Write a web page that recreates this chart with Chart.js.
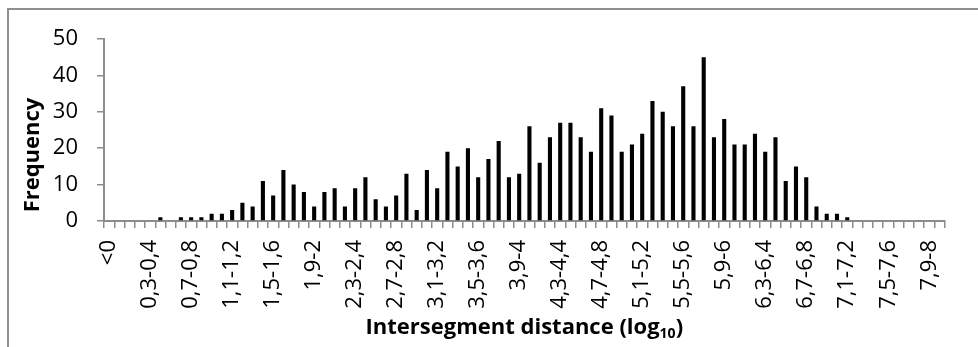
<!DOCTYPE html>
<html>
<head>
<meta charset="utf-8">
<script src="https://cdn.jsdelivr.net/npm/chart.js@4/dist/chart.umd.min.js"></script>
<style>
  html, body { margin: 0; padding: 0; background: #fff; }
  #wrap { width: 978px; height: 347px; }
</style>
</head>
<body>
<div id="wrap"><canvas id="histChart"></canvas></div>
<script>
const categories = [
  "<0",
  "0-0,1", "0,1-0,2", "0,2-0,3", "0,3-0,4", "0,4-0,5", "0,5-0,6", "0,6-0,7", "0,7-0,8", "0,8-0,9", "0,9-1",
  "1-1,1", "1,1-1,2", "1,2-1,3", "1,3-1,4", "1,4-1,5", "1,5-1,6", "1,6-1,7", "1,7-1,8", "1,8-1,9", "1,9-2",
  "2-2,1", "2,1-2,2", "2,2-2,3", "2,3-2,4", "2,4-2,5", "2,5-2,6", "2,6-2,7", "2,7-2,8", "2,8-2,9", "2,9-3",
  "3-3,1", "3,1-3,2", "3,2-3,3", "3,3-3,4", "3,4-3,5", "3,5-3,6", "3,6-3,7", "3,7-3,8", "3,8-3,9", "3,9-4",
  "4-4,1", "4,1-4,2", "4,2-4,3", "4,3-4,4", "4,4-4,5", "4,5-4,6", "4,6-4,7", "4,7-4,8", "4,8-4,9", "4,9-5",
  "5-5,1", "5,1-5,2", "5,2-5,3", "5,3-5,4", "5,4-5,5", "5,5-5,6", "5,6-5,7", "5,7-5,8", "5,8-5,9", "5,9-6",
  "6-6,1", "6,1-6,2", "6,2-6,3", "6,3-6,4", "6,4-6,5", "6,5-6,6", "6,6-6,7", "6,7-6,8", "6,8-6,9", "6,9-7",
  "7-7,1", "7,1-7,2", "7,2-7,3", "7,3-7,4", "7,4-7,5", "7,5-7,6", "7,6-7,7", "7,7-7,8", "7,8-7,9", "7,9-8",
  ">8"
];

const frequency = [
  0, 0, 0, 0, 0, 1, 0, 1, 1, 1, 2,
  2, 3, 5, 4, 11, 7, 14, 10, 8, 4,
  8, 9, 4, 9, 12, 6, 4, 7, 13, 3,
  14, 9, 19, 15, 20, 12, 17, 22, 12, 13,
  26, 16, 23, 27, 27, 23, 19, 31, 29, 19,
  21, 24, 33, 30, 26, 37, 26, 45, 23, 28,
  21, 21, 24, 19, 23, 11, 15, 12, 4, 2,
  2, 1, 0, 0, 0, 0, 0, 0, 0, 0,
  0
];

const yTicks = [0, 10, 20, 30, 40, 50];
const xTitle = "Intersegment distance (log";
const xTitleSub = "10";
const yTitle = "Frequency";

const fontFamily = "'Open Sans', 'Noto Sans', sans-serif";
const axisGray = "#8c8c8c";

// outer frame + axis titles (x title has a subscript)
const decorations = {
  id: "decorations",
  beforeDraw(chart) {
    const ctx = chart.ctx;
    ctx.save();
    ctx.strokeStyle = "#8f8f8f";
    ctx.lineWidth = 2;
    ctx.beginPath();
    ctx.moveTo(8, 347);
    ctx.lineTo(8, 9);
    ctx.lineTo(978, 9);
    ctx.stroke();
    ctx.restore();
  },
  afterDraw(chart) {
    const ctx = chart.ctx;
    const area = chart.chartArea;
    ctx.save();
    ctx.fillStyle = "#000";

    // x title
    const mainFont = "bold 22px " + fontFamily;
    const subFont = "bold 14px " + fontFamily;
    ctx.font = mainFont;
    const w1 = ctx.measureText(xTitle).width;
    const w3 = ctx.measureText(")").width;
    ctx.font = subFont;
    const w2 = ctx.measureText(xTitleSub).width;
    let x = (area.left + area.right) / 2 - (w1 + w2 + w3) / 2;
    const base = 334;
    ctx.textBaseline = "alphabetic";
    ctx.textAlign = "left";
    ctx.font = mainFont;
    ctx.fillText(xTitle, x, base);
    x += w1;
    ctx.font = subFont;
    ctx.fillText(xTitleSub, x, base + 4);
    x += w2;
    ctx.font = mainFont;
    ctx.fillText(")", x, base);

    // y title
    ctx.translate(33, 155);
    ctx.rotate(-Math.PI / 2);
    ctx.font = mainFont;
    ctx.textAlign = "center";
    ctx.textBaseline = "middle";
    ctx.fillText(yTitle, 0, 0);
    ctx.restore();
  }
};

new Chart(document.getElementById("histChart"), {
  type: "bar",
  data: {
    labels: categories,
    datasets: [{
      data: frequency,
      backgroundColor: "#000",
      borderWidth: 0,
      barPercentage: 0.4,
      categoryPercentage: 1.0
    }]
  },
  options: {
    responsive: true,
    maintainAspectRatio: false,
    animation: false,
    layout: { padding: { top: 39, right: 17, left: 0, bottom: 0 } },
    plugins: {
      legend: { display: false },
      tooltip: { enabled: false }
    },
    scales: {
      x: {
        offset: true,
        afterFit: s => { s.height = 126; },
        grid: {
          display: true,
          offset: true,
          drawOnChartArea: false,
          drawTicks: true,
          tickLength: 7,
          color: axisGray,
          lineWidth: 1.5
        },
        border: { color: axisGray, width: 2 },
        ticks: {
          autoSkip: false,
          maxRotation: 90,
          minRotation: 90,
          padding: 12,
          color: "#000",
          font: { family: fontFamily, size: 22 },
          callback: function (val, i) {
            return i % 4 === 0 ? this.getLabelForValue(val) : "";
          }
        }
      },
      y: {
        min: yTicks[0],
        max: yTicks[yTicks.length - 1],
        afterFit: s => { s.width = 104; },
        afterBuildTicks: s => { s.ticks = yTicks.map(v => ({ value: v })); },
        grid: {
          display: true,
          drawOnChartArea: false,
          drawTicks: true,
          tickLength: 7,
          color: axisGray,
          lineWidth: 1.5
        },
        border: { color: axisGray, width: 2 },
        ticks: {
          padding: 19,
          color: "#000",
          font: { family: fontFamily, size: 22 }
        }
      }
    }
  },
  plugins: [decorations]
});
</script>
</body>
</html>
